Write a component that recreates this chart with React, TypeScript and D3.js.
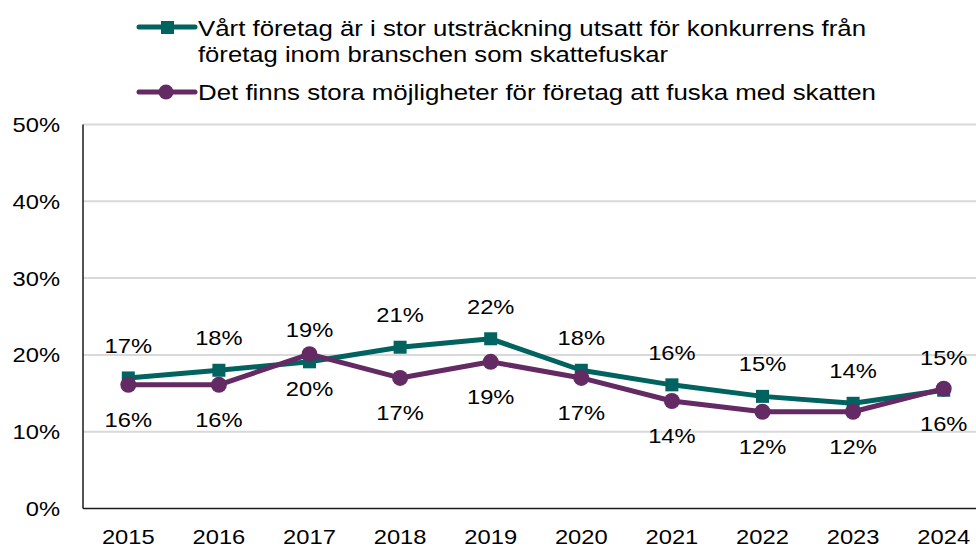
import React from "react";
import * as d3 from "d3";

const years = ["2015", "2016", "2017", "2018", "2019", "2020", "2021", "2022", "2023", "2024"];
const seriesA = [17.0, 18.0, 19.1, 21.0, 22.1, 18.0, 16.1, 14.6, 13.7, 15.4];
const labelsA = ["17%", "18%", "19%", "21%", "22%", "18%", "16%", "15%", "14%", "15%"];
const seriesB = [16.1, 16.1, 20.1, 17.0, 19.1, 17.0, 14.0, 12.6, 12.6, 15.6];
const labelsB = ["16%", "16%", "20%", "17%", "19%", "17%", "14%", "12%", "12%", "16%"];
const yTicks = [0, 10, 20, 30, 40, 50];
const nameA1 = "Vårt företag är i stor utsträckning utsatt för konkurrens från";
const nameA2 = "företag inom branschen som skattefuskar";
const nameB = "Det finns stora möjligheter för företag att fuska med skatten";

const TEAL = "#00635f";
const PURPLE = "#642a63";
const FONT = "'Liberation Sans', Arial, sans-serif";
const SX = 1.13;

export default function App() {
  const W = 976, H = 547;
  const left = 83, right = 989, top = 124.5, bottom = 508.5;
  const x = d3.scaleBand<string>().domain(years).range([left, right]).paddingInner(0).paddingOuter(0);
  const cx = (yr: string) => (x(yr) as number) + x.bandwidth() / 2;
  const y = d3.scaleLinear().domain([0, 50]).range([bottom, top]);
  const line = d3.line<number>().x((_, i) => cx(years[i])).y((d) => y(d));

  const txt = (key: string, tx: number, ty: number, s: string, anchor: string) => (
    <text key={key} transform={`translate(${tx},${ty}) scale(${SX},1)`} textAnchor={anchor}
      fontFamily={FONT} fontSize={21} fill="#000">{s}</text>
  );

  return (
    <svg width={W} height={H} style={{ position: "absolute", left: 0, top: 0 }}>
      <rect width={W} height={H} fill="#fff" />
      {yTicks.filter((t) => t > 0).map((t) => (
        <line key={"g" + t} x1={left} x2={right} y1={y(t)} y2={y(t)} stroke="#d9d9d9" strokeWidth={2} />
      ))}
      <line x1={left} x2={left} y1={top} y2={bottom} stroke="#1a1a1a" strokeWidth={1.5} />
      <line x1={left} x2={right} y1={bottom} y2={bottom} stroke="#1a1a1a" strokeWidth={1.5} />
      {yTicks.map((t) => txt("yt" + t, 60, y(t) + 7.5, `${t}%`, "end"))}
      {years.map((yr) => txt("xt" + yr, cx(yr), 543.5, yr, "middle"))}

      <path d={line(seriesA) || ""} fill="none" stroke={TEAL} strokeWidth={5} strokeLinejoin="round" />
      {seriesA.map((v, i) => (
        <rect key={"ma" + i} x={cx(years[i]) - 6.5} y={y(v) - 6.5} width={13} height={13} fill={TEAL} />
      ))}
      <path d={line(seriesB) || ""} fill="none" stroke={PURPLE} strokeWidth={5} strokeLinejoin="round" />
      {seriesB.map((v, i) => (
        <circle key={"mb" + i} cx={cx(years[i])} cy={y(v)} r={8} fill={PURPLE} />
      ))}

      {seriesA.map((v, i) => txt("la" + i, cx(years[i]), y(v) - 25, labelsA[i], "middle"))}
      {seriesB.map((v, i) => txt("lb" + i, cx(years[i]), y(v) + 42, labelsB[i], "middle"))}

      <g>
        <line x1={139} x2={195} y1={27} y2={27} stroke={TEAL} strokeWidth={5} strokeLinecap="round" />
        <rect x={161} y={21} width={13} height={13} fill={TEAL} />
        <text x={198} y={36} fontFamily={FONT} fontSize={21.5} textLength={668} lengthAdjust="spacingAndGlyphs">{nameA1}</text>
        <text x={198} y={62} fontFamily={FONT} fontSize={21.5} textLength={470} lengthAdjust="spacingAndGlyphs">{nameA2}</text>
        <line x1={139} x2={195} y1={92} y2={92} stroke={PURPLE} strokeWidth={5} strokeLinecap="round" />
        <circle cx={166} cy={92} r={7.5} fill={PURPLE} />
        <text x={198} y={100} fontFamily={FONT} fontSize={21.5} textLength={678} lengthAdjust="spacingAndGlyphs">{nameB}</text>
      </g>
    </svg>
  );
}
